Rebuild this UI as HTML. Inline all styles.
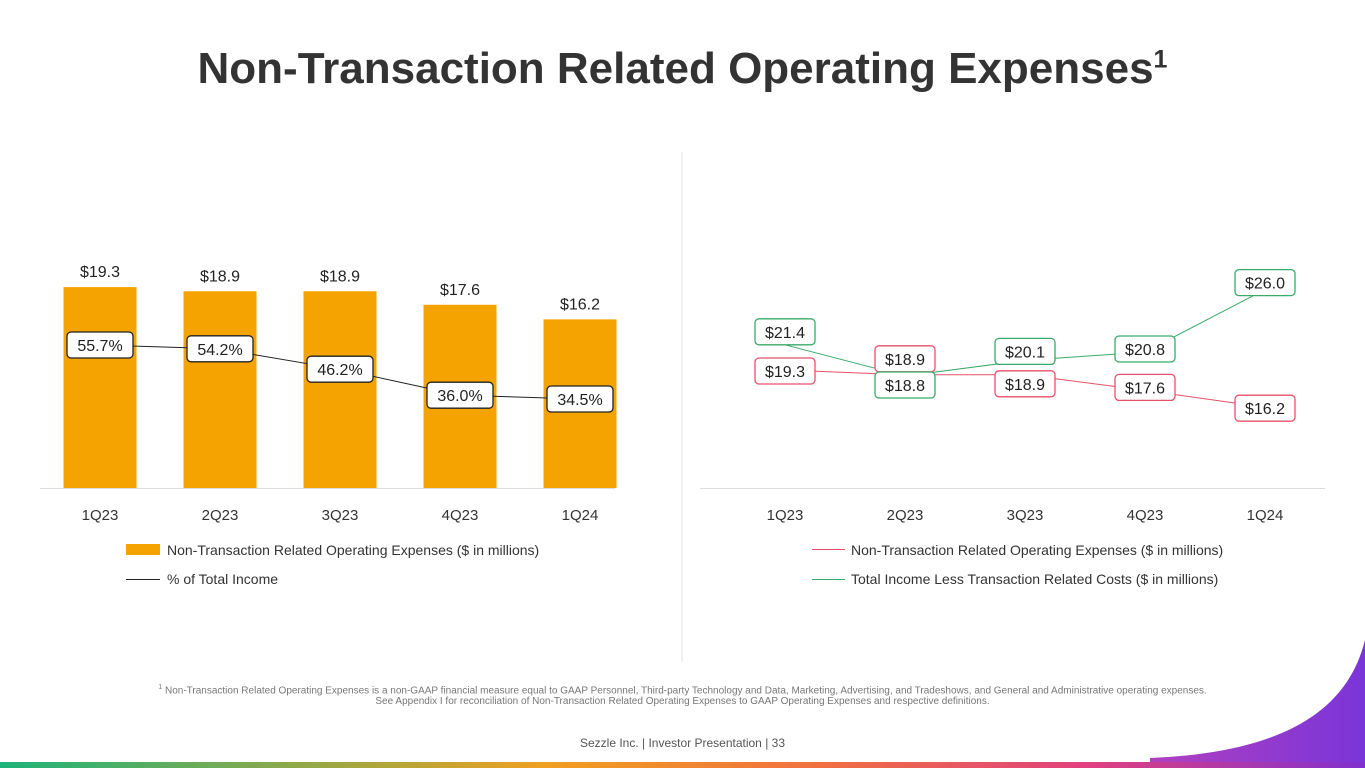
<!DOCTYPE html>
<html><head><meta charset="utf-8">
<style>
body{margin:0;width:1365px;height:768px;overflow:hidden;background:#fff;font-family:"Liberation Sans",sans-serif;position:relative}
#title{position:absolute;left:0;width:1365px;top:44px;text-align:center;font-size:44px;font-weight:bold;color:#333}
#title sup{font-size:25px}
.foot{position:absolute;left:0;width:1365px;text-align:center;font-size:10px;color:#777}
</style></head><body>
<div id="title">Non-Transaction Related Operating Expenses<sup>1</sup></div>
<svg id="chart" width="1365" height="768" style="position:absolute;left:0;top:0">
<defs>
<linearGradient id="bar" x1="0" x2="1"><stop offset="0" stop-color="#1db37a"/><stop offset="0.4" stop-color="#f0a020"/><stop offset="0.6" stop-color="#f07040"/><stop offset="0.8" stop-color="#e04080"/><stop offset="1" stop-color="#8030d0"/></linearGradient>
<linearGradient id="sw" x1="0" x2="1"><stop offset="0" stop-color="#b040c0"/><stop offset="1" stop-color="#7a35d8"/></linearGradient>
</defs>
<path d="M1150,768 L1150,758 C1300,752 1350,700 1365,640 L1365,768 Z" fill="url(#sw)"/>
<rect x="0" y="762" width="1365" height="6" fill="url(#bar)"/>
<line x1="682" y1="152" x2="682" y2="662" stroke="#e4e4e4"/>
<g id="left"></g><g id="right"></g>
</svg>
<div class="foot" style="top:684px"><sup style="font-size:7px">1</sup> Non-Transaction Related Operating Expenses is a non-GAAP financial measure equal to GAAP Personnel, Third-party Technology and Data, Marketing, Advertising, and Tradeshows, and General and Administrative operating expenses.<br>See Appendix I for reconciliation of Non-Transaction Related Operating Expenses to GAAP Operating Expenses and respective definitions.</div>
<div class="foot" style="top:736px;font-size:12px;color:#555">Sezzle Inc. | Investor Presentation | 33</div>
<script>
const categories=["1Q23","2Q23","3Q23","4Q23","1Q24"];
const expenses=[19.3,18.9,18.9,17.6,16.2];
const pctIncome=[55.7,54.2,46.2,36.0,34.5];
const totalIncomeLess=[21.4,18.8,20.1,20.8,26.0];
const ns="http://www.w3.org/2000/svg";
function mk(p,t,a,txt){const e=document.createElementNS(ns,t);for(const k in a)e.setAttribute(k,a[k]);if(txt!==undefined)e.textContent=txt;p.appendChild(e);return e;}
const L=document.getElementById('left'),R=document.getElementById('right');
const xl=i=>100+i*120, xr=i=>785+i*120;
const yb=v=>488-v*10.41, yp=v=>487-v*2.55, yr=v=>601.6-v*12;
function box(p,cx,cy,txt,stroke,w,name){
 const g=mk(p,'g',{});
 
 
 mk(g,'rect',{x:cx-w/2,y:cy-13,width:w,height:26,rx:4,fill:'#fff',stroke:stroke,'stroke-width':1.3});
 mk(g,'text',{x:cx,y:cy+6,'text-anchor':'middle','font-size':16,fill:'#222'},txt);
}
categories.forEach((c,i)=>{
 const r=mk(L,'rect',{x:xl(i)-36.5,y:yb(expenses[i]),width:73,height:488-yb(expenses[i]),fill:'#f5a300'});
 
 
 const t=mk(L,'text',{x:xl(i),y:yb(expenses[i])-10,'text-anchor':'middle','font-size':16,fill:'#222'},'$'+expenses[i].toFixed(1));
 
 
 const a=mk(L,'text',{x:xl(i),y:520,'text-anchor':'middle','font-size':15,fill:'#333'},c);
 
 
});
mk(L,'line',{x1:40,x2:615,y1:488.5,y2:488.5,stroke:'#ddd'});
const pl=mk(L,'polyline',{points:pctIncome.map((v,i)=>xl(i)+','+yp(v)).join(' '),fill:'none',stroke:'#222','stroke-width':1});


pctIncome.forEach((v,i)=>box(L,xl(i),yp(v),v.toFixed(1)+'%','#222',66,'pct-label'));
mk(L,'rect',{x:126,y:544,width:34,height:11,fill:'#f5a300'});
mk(L,'text',{x:167,y:555,'font-size':14,fill:'#333'},'Non-Transaction Related Operating Expenses ($ in millions)');
mk(L,'line',{x1:126,x2:160,y1:579.5,y2:579.5,stroke:'#222'});
mk(L,'text',{x:167,y:584,'font-size':14,fill:'#333'},'% of Total Income');
mk(R,'line',{x1:700,x2:1325,y1:488.5,y2:488.5,stroke:'#ddd'});
categories.forEach((c,i)=>{
 const a=mk(R,'text',{x:xr(i),y:520,'text-anchor':'middle','font-size':15,fill:'#333'},c);
 
 
});
const red='#e8506a',green='#3aaa6a';
const rl=mk(R,'polyline',{points:expenses.map((v,i)=>xr(i)+','+yr(v)).join(' '),fill:'none',stroke:red,'stroke-width':1});


const gl=mk(R,'polyline',{points:totalIncomeLess.map((v,i)=>xr(i)+','+yr(v)).join(' '),fill:'none',stroke:green,'stroke-width':1});


const redOff=[1,-16,9,-3,1], greenOff=[-13,9,-9,-3,-7];
expenses.forEach((v,i)=>box(R,xr(i),yr(v)+redOff[i],'$'+v.toFixed(1),red,60,'expense-label'));
totalIncomeLess.forEach((v,i)=>box(R,xr(i),yr(v)+greenOff[i],'$'+v.toFixed(1),green,60,'income-label'));
mk(R,'line',{x1:812,x2:845,y1:549.5,y2:549.5,stroke:red});
mk(R,'text',{x:851,y:555,'font-size':14,fill:'#333'},'Non-Transaction Related Operating Expenses ($ in millions)');
mk(R,'line',{x1:812,x2:845,y1:579.5,y2:579.5,stroke:green});
mk(R,'text',{x:851,y:584,'font-size':14,fill:'#333'},'Total Income Less Transaction Related Costs ($ in millions)');
</script>
</body></html>
